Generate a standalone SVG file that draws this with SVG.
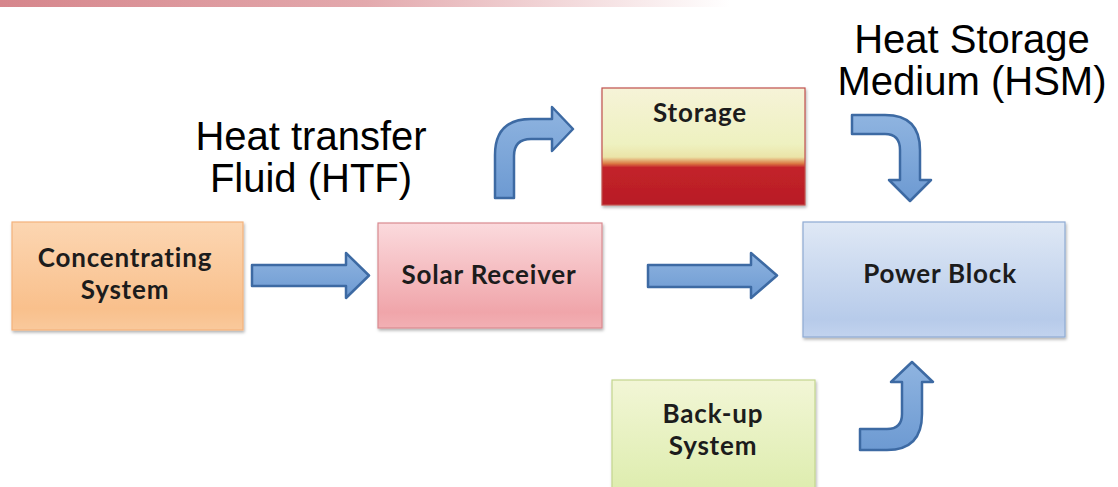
<svg xmlns="http://www.w3.org/2000/svg" width="1118" height="487" viewBox="0 0 1118 487">
<defs>
<linearGradient id="banner" x1="0" y1="0" x2="1" y2="0">
<stop offset="0" stop-color="#d6868c"/>
<stop offset="0.5" stop-color="#e3a9ad"/>
<stop offset="1" stop-color="#ffffff"/>
</linearGradient>
<linearGradient id="gOrange" x1="0" y1="0" x2="0" y2="1">
<stop offset="0" stop-color="#fcd6b2"/>
<stop offset="0.8" stop-color="#f9c08c"/>
<stop offset="1" stop-color="#f9c99c"/>
</linearGradient>
<linearGradient id="gPink" x1="0" y1="0" x2="0" y2="1">
<stop offset="0" stop-color="#fbdadd"/>
<stop offset="0.85" stop-color="#f0a5aa"/>
<stop offset="1" stop-color="#f2b0b4"/>
</linearGradient>
<linearGradient id="gStorage" x1="0" y1="0" x2="0" y2="1">
<stop offset="0" stop-color="#f6f3d8"/>
<stop offset="0.48" stop-color="#eef1c0"/>
<stop offset="0.59" stop-color="#ebe4a8"/>
<stop offset="0.645" stop-color="#dc7a45"/>
<stop offset="0.68" stop-color="#c3222a"/>
<stop offset="1" stop-color="#b81d25"/>
</linearGradient>
<linearGradient id="gBlue" x1="0" y1="0" x2="0" y2="1">
<stop offset="0" stop-color="#dfe8f5"/>
<stop offset="0.85" stop-color="#b7cbea"/>
<stop offset="1" stop-color="#c2d3ee"/>
</linearGradient>
<linearGradient id="gGreen" x1="0" y1="0" x2="0" y2="1">
<stop offset="0" stop-color="#f2f6d6"/>
<stop offset="1" stop-color="#dcecab"/>
</linearGradient>
<linearGradient id="gArrow" x1="0" y1="0" x2="0" y2="1">
<stop offset="0" stop-color="#8fb4e0"/>
<stop offset="1" stop-color="#6d9ad2"/>
</linearGradient>
<filter id="shadow" x="-5%" y="-5%" width="112%" height="115%">
<feDropShadow dx="1" dy="2" stdDeviation="1.5" flood-color="#000" flood-opacity="0.3"/>
</filter>
</defs>
<style>
.lbl{font-family:Lato,"Open Sans",sans-serif;font-weight:bold;font-size:26px;letter-spacing:0.8px;fill:#1c1c1c;text-anchor:middle;font-variant-ligatures:none}
.big{font-family:"Liberation Sans",Arial,sans-serif;font-size:40px;fill:#000;text-anchor:middle}
.arrow{fill:url(#gArrow);stroke:#3d6aa3;stroke-width:2.5;stroke-linejoin:round}
.box{filter:url(#shadow);stroke-width:1.2}
</style>
<rect x="0" y="0" width="730" height="7" fill="url(#banner)"/>

<g id="label-htf">
<text class="big" x="311" y="150">Heat transfer</text>
<text class="big" x="311" y="192">Fluid (HTF)</text>
</g>
<g id="label-hsm">
<text class="big" x="972" y="53">Heat Storage</text>
<text class="big" x="972" y="95">Medium (HSM)</text>
</g>

<g id="connectors">
<path class="arrow" d="M252,265 L346,265 L346,253 L369,275.5 L346,298 L346,286 L252,286 Z"/>
<path class="arrow" d="M648,265 L751,265 L751,253 L777,275.5 L751,298 L751,287 L648,287 Z"/>
<path class="arrow" d="M495,198 L495,155 Q495,119 531,119 L552,119 L552,107 L573,129 L552,151 L552,139 L531,139 Q514,139 514,156 L514,198 Z"/>
<path class="arrow" d="M852,115 L885,115 Q920,115 920,150 L920,180 L931,180 L910,201 L889,180 L900,180 L900,150 Q900,134 885,134 L852,134 Z"/>
<path class="arrow" d="M860,429 L887,429 Q902,429 902,414 L902,382 L891,382 L912,362 L933,382 L922,382 L922,414 Q922,450 887,450 L860,450 Z"/>
</g>

<g id="node-concentrating">
<rect class="box" x="12" y="222" width="231" height="108" fill="url(#gOrange)" stroke="#f3b27c"/>
<text class="lbl" x="125" y="267">Concentrating</text>
<text class="lbl" x="125" y="299">System</text>
</g>
<g id="node-receiver">
<rect class="box" x="378" y="223" width="224" height="105" fill="url(#gPink)" stroke="#d98a90"/>
<text class="lbl" x="489" y="284">Solar Receiver</text>
</g>
<g id="node-storage">
<rect class="box" x="602" y="88" width="203" height="117" fill="url(#gStorage)" stroke="#c0504d"/>
<text class="lbl" x="700" y="122">Storage</text>
</g>
<g id="node-power">
<rect class="box" x="803" y="222" width="262" height="115" fill="url(#gBlue)" stroke="#8eaad3"/>
<text class="lbl" x="940" y="283">Power Block</text>
</g>
<g id="node-backup">
<rect class="box" x="612" y="380" width="203" height="120" fill="url(#gGreen)" stroke="#c3d68e"/>
<text class="lbl" x="713" y="423">Back-up</text>
<text class="lbl" x="713" y="455">System</text>
</g>
</svg>
